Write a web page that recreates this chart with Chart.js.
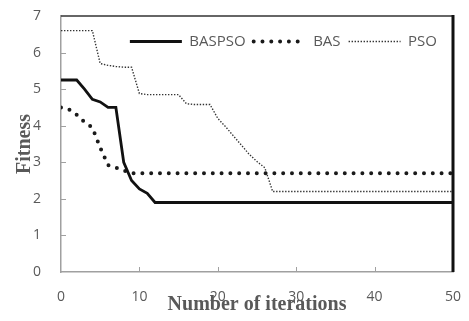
<!DOCTYPE html>
<html>
<head>
<meta charset="utf-8">
<script src="https://cdn.jsdelivr.net/npm/chart.js@4"></script>
<style>
  html, body { margin: 0; padding: 0; background: #fff; }
  #wrap { width: 469px; height: 321px; }
</style>
</head>
<body>
<div id="wrap"><canvas id="fitnessChart"></canvas></div>
<script>
// 迭代次数 / fitness values
const iterations = [0, 1, 2, 3, 4, 5, 6, 7, 8, 9, 10, 11, 12, 13, 14, 15, 16, 17, 18, 19, 20,
  21, 22, 23, 24, 25, 26, 27, 28, 29, 30, 31, 32, 33, 34, 35, 36, 37, 38, 39, 40,
  41, 42, 43, 44, 45, 46, 47, 48, 49, 50];

const baspso = [5.25, 5.25, 5.25, 5.0, 4.72, 4.65, 4.5, 4.5, 3.0, 2.5, 2.27, 2.15, 1.9, 1.9, 1.9, 1.9, 1.9, 1.9, 1.9, 1.9, 1.9,
  1.9, 1.9, 1.9, 1.9, 1.9, 1.9, 1.9, 1.9, 1.9, 1.9, 1.9, 1.9, 1.9, 1.9, 1.9, 1.9, 1.9, 1.9, 1.9, 1.9,
  1.9, 1.9, 1.9, 1.9, 1.9, 1.9, 1.9, 1.9, 1.9, 1.9];

const bas = [4.5, 4.45, 4.3, 4.1, 3.95, 3.4, 2.92, 2.85, 2.78, 2.7, 2.7, 2.7, 2.7, 2.7, 2.7, 2.7, 2.7, 2.7, 2.7, 2.7, 2.7,
  2.7, 2.7, 2.7, 2.7, 2.7, 2.7, 2.7, 2.7, 2.7, 2.7, 2.7, 2.7, 2.7, 2.7, 2.7, 2.7, 2.7, 2.7, 2.7, 2.7,
  2.7, 2.7, 2.7, 2.7, 2.7, 2.7, 2.7, 2.7, 2.7, 2.7];

const pso = [6.6, 6.6, 6.6, 6.6, 6.6, 5.7, 5.65, 5.62, 5.6, 5.6, 4.88, 4.85, 4.85, 4.85, 4.85, 4.85, 4.6, 4.58, 4.58, 4.58, 4.2,
  3.97, 3.72, 3.47, 3.22, 3.02, 2.85, 2.2, 2.2, 2.2, 2.2, 2.2, 2.2, 2.2, 2.2, 2.2, 2.2, 2.2, 2.2, 2.2, 2.2,
  2.2, 2.2, 2.2, 2.2, 2.2, 2.2, 2.2, 2.2, 2.2, 2.2];

const seriesNames = ['BASPSO', 'BAS', 'PSO'];
const xTicks = [0, 10, 20, 30, 40, 50];
const yTicks = [0, 1, 2, 3, 4, 5, 6, 7];

const GRAY = '#595959';
const AXIS = '#a0a0a0';

function toPoints(values) {
  return iterations.map((it, i) => ({ x: it, y: values[i] }));
}

// top/right frame and the short inside tick marks (Excel style)
const frameAndTicks = {
  id: 'frameAndTicks',
  afterDatasetsDraw(chart) {
    const { ctx, chartArea: a, scales: { x, y } } = chart;
    ctx.save();
    ctx.strokeStyle = AXIS;
    ctx.lineWidth = 1;
    ctx.beginPath();
    yTicks.slice(1, -1).forEach(v => {
      const py = Math.round(y.getPixelForValue(v)) + 0.5;
      ctx.moveTo(a.left, py); ctx.lineTo(a.left + 5, py);
    });
    xTicks.slice(1, -1).forEach(v => {
      const px = Math.round(x.getPixelForValue(v)) + 0.5;
      ctx.moveTo(px, a.bottom); ctx.lineTo(px, a.bottom - 5);
    });
    ctx.stroke();
    ctx.strokeStyle = '#333';
    ctx.lineWidth = 1.5;
    ctx.beginPath();
    ctx.moveTo(a.left, a.top); ctx.lineTo(a.right, a.top);
    ctx.stroke();
    ctx.strokeStyle = '#111';
    ctx.lineWidth = 3;
    ctx.beginPath();
    ctx.moveTo(a.right, a.top - 1); ctx.lineTo(a.right, a.bottom);
    ctx.stroke();
    ctx.restore();
  }
};

// legend sits inside the plot area, takes no layout room
const legendInside = {
  id: 'legendInside',
  beforeInit(chart) {
    const fit = chart.legend.fit;
    chart.legend.fit = function () { fit.call(this); this.height = 0; };
  },
  afterLayout(chart) {
    const lg = chart.legend;
    lg.top = chart.chartArea.top + 10;
    lg.bottom = lg.top + 30;
    lg.right = chart.chartArea.right - 8;
  }
};

// legend samples keep the dataset's own dash / width
function legendLabels(chart) {
  const items = Chart.defaults.plugins.legend.labels.generateLabels(chart);
  return items.map(item => {
    const ds = chart.data.datasets[item.datasetIndex];
    return Object.assign(item, {
      lineDash: ds.borderDash || [],
      lineWidth: ds.borderWidth,
      lineCap: ds.borderCapStyle || 'butt',
      strokeStyle: ds.borderColor
    });
  });
}

const ctx = document.getElementById('fitnessChart');
new Chart(ctx, {
  type: 'line',
  data: {
    datasets: [
      {
        label: seriesNames[0],
        data: toPoints(baspso),
        borderColor: '#111',
        borderWidth: 2.8,
        pointRadius: 0,
        tension: 0
      },
      {
        label: seriesNames[1],
        data: toPoints(bas),
        borderColor: '#1a1a1a',
        borderWidth: 4,
        borderDash: [0, 8.8],
        borderCapStyle: 'round',
        pointRadius: 0,
        tension: 0
      },
      {
        label: seriesNames[2],
        data: toPoints(pso),
        borderColor: '#333',
        borderWidth: 1.4,
        borderDash: [1.4, 1.6],
        pointRadius: 0,
        tension: 0
      }
    ]
  },
  options: {
    responsive: true,
    maintainAspectRatio: false,
    animation: false,
    layout: { padding: { top: 16, right: 16, left: 0, bottom: 0 } },
    plugins: {
      legend: {
        position: 'top',
        align: 'end',
        labels: {
          usePointStyle: true,
          pointStyle: 'line',
          pointStyleWidth: 52,
          boxHeight: 14,
          padding: 8,
          color: GRAY,
          font: { family: '"Open Sans", "Noto Sans", sans-serif', size: 15 },
          generateLabels: legendLabels
        }
      },
      tooltip: { enabled: false }
    },
    scales: {
      x: {
        type: 'linear',
        min: 0,
        max: 50,
        afterFit(scale) { scale.height = 49; scale.paddingLeft = 0; scale.paddingRight = 0; },
        afterBuildTicks(scale) { scale.ticks = xTicks.map(v => ({ value: v })); },
        grid: { display: false },
        border: { display: true, color: AXIS, width: 1.5 },
        ticks: {
          padding: 9,
          maxRotation: 0,
          color: GRAY,
          font: { family: '"Open Sans", "Noto Sans", sans-serif', size: 14 }
        },
        title: {
          display: true,
          text: 'Number of iterations',
          color: GRAY,
          padding: { top: 0, bottom: 4 },
          font: { family: '"Liberation Serif", "Times New Roman", serif', size: 20, weight: 'bold' }
        }
      },
      y: {
        min: 0,
        max: 7,
        afterFit(scale) { scale.width = 61; scale.paddingTop = 0; scale.paddingBottom = 0; },
        afterBuildTicks(scale) { scale.ticks = yTicks.map(v => ({ value: v })); },
        grid: { display: false },
        border: { display: true, color: AXIS, width: 1.5 },
        ticks: {
          padding: 12,
          color: GRAY,
          font: { family: '"Open Sans", "Noto Sans", sans-serif', size: 14 }
        },
        title: {
          display: true,
          text: 'Fitness',
          color: GRAY,
          padding: { top: 13, bottom: 0 },
          font: { family: '"Liberation Serif", "Times New Roman", serif', size: 20, weight: 'bold' }
        }
      }
    }
  },
  plugins: [frameAndTicks, legendInside]
});
</script>
</body>
</html>
